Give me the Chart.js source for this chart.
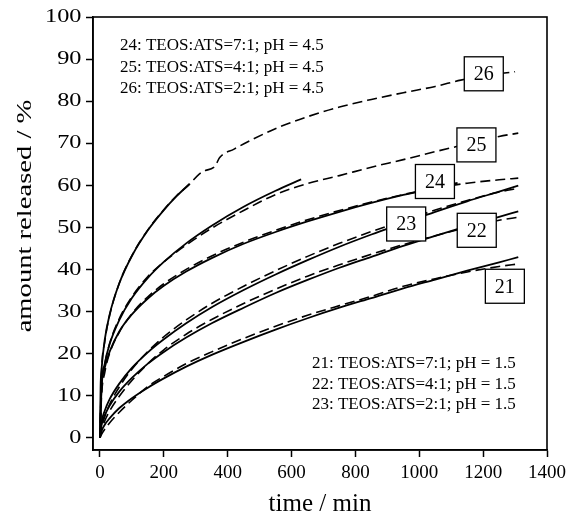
<!DOCTYPE html>
<html><head><meta charset="utf-8">
<script src="https://cdn.jsdelivr.net/npm/chart.js@4.4.1/dist/chart.umd.min.js"></script>
<style>html,body{margin:0;padding:0;background:#fff;}</style>
</head><body>
<canvas id="c" width="571" height="519"></canvas>
<script>
// ---- axis ticks ----
const xTicks = [0,200,400,600,800,1000,1200,1400];
const yTicks = [0,10,20,30,40,50,60,70,80,90,100];
const xTitle = 'time / min';
const yTitle = 'amount released / %';

// ---- time grids (min) ----
const tStd   = [0,5,15,30,60,100,150,200,270,350,450,550,650,750,850,950,1050,1150,1250,1310];
const t24Fit = [0,5,15,30,60,100,150,200,270,350,450,550,650,750,850,950,1050,1120];
const t25Fit = [0,5,15,30,60,100,150,200,270,350,450,550,630];
const t26Fit = [0,2,5,15,30,60,100,150,200,240,280];
const t26Exp = [0,5,15,30,60,100,150,200,240,280,310,330,355,365,375,420,480,560,650,750,850,950,1050,1130,1200,1300];

// ---- amount released (%) : dashed = experiment, solid = fit ----
const exp21 = [0,0.8,2.0,3.5,6.0,8.9,12.2,14.6,17.6,20.4,23.6,26.5,29.1,31.4,33.6,36.0,37.8,39.4,40.7,41.3];
const fit21 = [0,1.6,3.1,4.6,7.0,9.4,11.9,14.1,16.9,19.7,22.8,25.7,28.4,30.9,33.2,35.5,37.6,39.7,41.7,42.9];
const exp22 = [0,1.8,4.0,6.3,9.8,13.6,17.6,20.9,24.6,28.1,31.9,35.3,38.4,41.1,43.6,45.9,48.0,50.0,51.7,52.4];
const fit22 = [0,3.0,5.3,7.6,10.9,14.2,17.6,20.4,23.8,27.2,30.9,34.4,37.5,40.4,43.0,45.6,48.0,50.3,52.5,53.8];
const exp23 = [0,2.4,5.0,7.9,12.0,16.3,20.5,24.0,28.0,31.9,36.0,39.7,43.1,46.2,49.0,51.6,54.1,56.4,58.4,59.3];
const fit23 = [0,3.7,6.4,9.1,12.8,16.6,20.3,23.4,27.2,31.0,35.1,38.8,42.2,45.4,48.3,51.0,53.7,56.2,58.5,59.9];
const exp24 = [0,10.0,15.5,20.0,25.0,29.5,33.5,36.6,40.0,43.2,46.5,49.3,51.8,54.0,56.0,57.8,59.3,60.5,61.3,61.7];
const fit24 = [0,11.9,16.6,20.4,25.2,29.3,33.1,36.1,39.5,42.7,46.1,48.9,51.4,53.7,55.8,57.7,59.4,60.6];
const exp25 = [0,11.5,17.3,22.3,28.2,33.5,38.3,41.8,45.8,49.8,54.0,57.8,60.4,62.3,64.3,66.1,68.0,69.8,71.6,72.4];
const fit25 = [0,12.2,17.6,22.2,27.9,33.2,38.0,41.8,46.2,50.4,54.9,58.7,61.4];
const exp26 = [0,15.5,22.8,29.0,36.6,43.3,49.4,54.2,57.5,60.2,62.6,63.5,64.2,65.2,66.6,68.6,71.0,73.8,76.3,78.6,80.4,82.0,83.5,85.0,86.0,87.0];
const fit26 = [0,12.1,16.3,23.3,29.2,36.6,43.2,49.3,54.1,57.4,60.3];

// ---- boxed curve labels (anchored in data units) ----
const boxLabels = ['21','22','23','24','25','26'];
const boxT = [1268,1180,959,1049,1179,1202];
const boxV = [36.0,49.3,50.8,60.9,69.6,86.5];

// ---- text notes ----
const notesTop = ['24: TEOS:ATS=7:1; pH = 4.5','25: TEOS:ATS=4:1; pH = 4.5','26: TEOS:ATS=2:1; pH = 4.5'];
const notesBottom = ['21: TEOS:ATS=7:1; pH = 1.5','22: TEOS:ATS=4:1; pH = 1.5','23: TEOS:ATS=2:1; pH = 1.5'];

const FONT = '"Liberation Serif", "Times New Roman", serif';
Chart.defaults.font.family = FONT;
Chart.defaults.color = '#000';

function pts(t, v){ return t.map((x,i)=>({x:x, y:v[i]})); }
function ds(label, t, v, dashed){
  return {
    label: label, data: pts(t, v),
    borderColor: '#000', borderWidth: dashed ? 1.6 : 1.8,
    borderDash: dashed ? [10,5] : [],
    pointRadius: 0, fill: false,
    cubicInterpolationMode: 'monotone'
  };
}

const datasets = [
  ds('21 exp', tStd, exp21, true),  ds('21 fit', tStd, fit21, false),
  ds('22 exp', tStd, exp22, true),  ds('22 fit', tStd, fit22, false),
  ds('23 exp', tStd, exp23, true),  ds('23 fit', tStd, fit23, false),
  ds('24 exp', tStd, exp24, true),  ds('24 fit', t24Fit, fit24, false),
  ds('25 exp', tStd, exp25, true),  ds('25 fit', t25Fit, fit25, false),
  ds('26 exp', t26Exp, exp26, true),ds('26 fit', t26Fit, fit26, false)
];

const decor = {
  id: 'decor',
  afterDatasetsDraw(chart){
    const {ctx, chartArea:a, scales:{x, y}} = chart;
    ctx.save();
    // boxed labels
    ctx.font = '20px ' + FONT;
    ctx.textAlign = 'center';
    ctx.textBaseline = 'middle';
    boxLabels.forEach((lab, i) => {
      const cx = x.getPixelForValue(boxT[i]);
      const cy = y.getPixelForValue(boxV[i]);
      const w = 39, h = 34;
      ctx.fillStyle = '#fff';
      ctx.fillRect(cx - w/2, cy - h/2, w, h);
      ctx.lineWidth = 1.3; ctx.strokeStyle = '#000';
      ctx.strokeRect(cx - w/2, cy - h/2, w, h);
      ctx.fillStyle = '#000';
      ctx.fillText(lab, cx, cy + 1);
    });
    // frame
    ctx.lineWidth = 1.6; ctx.strokeStyle = '#000';
    ctx.strokeRect(a.left, a.top, a.right - a.left, a.bottom - a.top);
    // notes
    ctx.font = '17px ' + FONT;
    ctx.textAlign = 'left';
    ctx.textBaseline = 'alphabetic';
    notesTop.forEach((s, i) => ctx.fillText(s, a.left + 27, a.top + 33 + i * 21.6));
    notesBottom.forEach((s, i) => ctx.fillText(s, a.left + 219, a.top + 351 + i * 20.5));
    // y tick labels (horizontally widened, as in the reference)
    ctx.font = '18px ' + FONT;
    ctx.textAlign = 'right';
    ctx.textBaseline = 'middle';
    yTicks.forEach(v => {
      ctx.save();
      ctx.translate(a.left - 11.5, y.getPixelForValue(v) + 0.5);
      ctx.scale(1.35, 1);
      ctx.fillText(String(v), 0, 0);
      ctx.restore();
    });
    // y axis title (stretched along its length, as in the reference)
    ctx.save();
    ctx.font = '22px ' + FONT;
    ctx.textAlign = 'center';
    ctx.textBaseline = 'alphabetic';
    ctx.translate(31, 216);
    ctx.rotate(-Math.PI / 2);
    ctx.scale(1.3, 1);
    ctx.fillText(yTitle, 0, 0);
    ctx.restore();
    ctx.restore();
  }
};

new Chart(document.getElementById('c'), {
  type: 'line',
  data: { datasets: datasets },
  options: {
    responsive: false, animation: false, devicePixelRatio: 1,
    layout: { padding: { top: 17, right: 22, left: 0, bottom: 0 } },
    plugins: { legend: { display: false }, tooltip: { enabled: false } },
    scales: {
      x: {
        type: 'linear', min: -21.8, max: 1400,
        afterBuildTicks: s => { s.ticks = xTicks.map(v => ({value: v})); },
        afterFit: s => { s.height = 69; },
        grid: { drawOnChartArea: false, drawTicks: true, tickLength: 7, tickWidth: 1.5, tickColor: '#000' },
        border: { display: true, color: '#000', width: 1.6 },
        ticks: { color: '#000', font: { size: 19 }, padding: 5, maxRotation: 0, autoSkip: false,
                 callback: v => String(v) },
        title: { display: true, text: xTitle, color: '#000', font: { size: 25 }, padding: { top: 4, bottom: 0 } }
      },
      y: {
        type: 'linear', min: -2.92, max: 100,
        afterBuildTicks: s => { s.ticks = yTicks.map(v => ({value: v})); },
        afterFit: s => { s.width = 93; },
        grid: { drawOnChartArea: false, drawTicks: true, tickLength: 7, tickWidth: 1.5, tickColor: '#000' },
        border: { display: true, color: '#000', width: 1.6 },
        ticks: { display: false },
        title: { display: false, text: yTitle }
      }
    }
  },
  plugins: [decor]
});
</script>
</body></html>
